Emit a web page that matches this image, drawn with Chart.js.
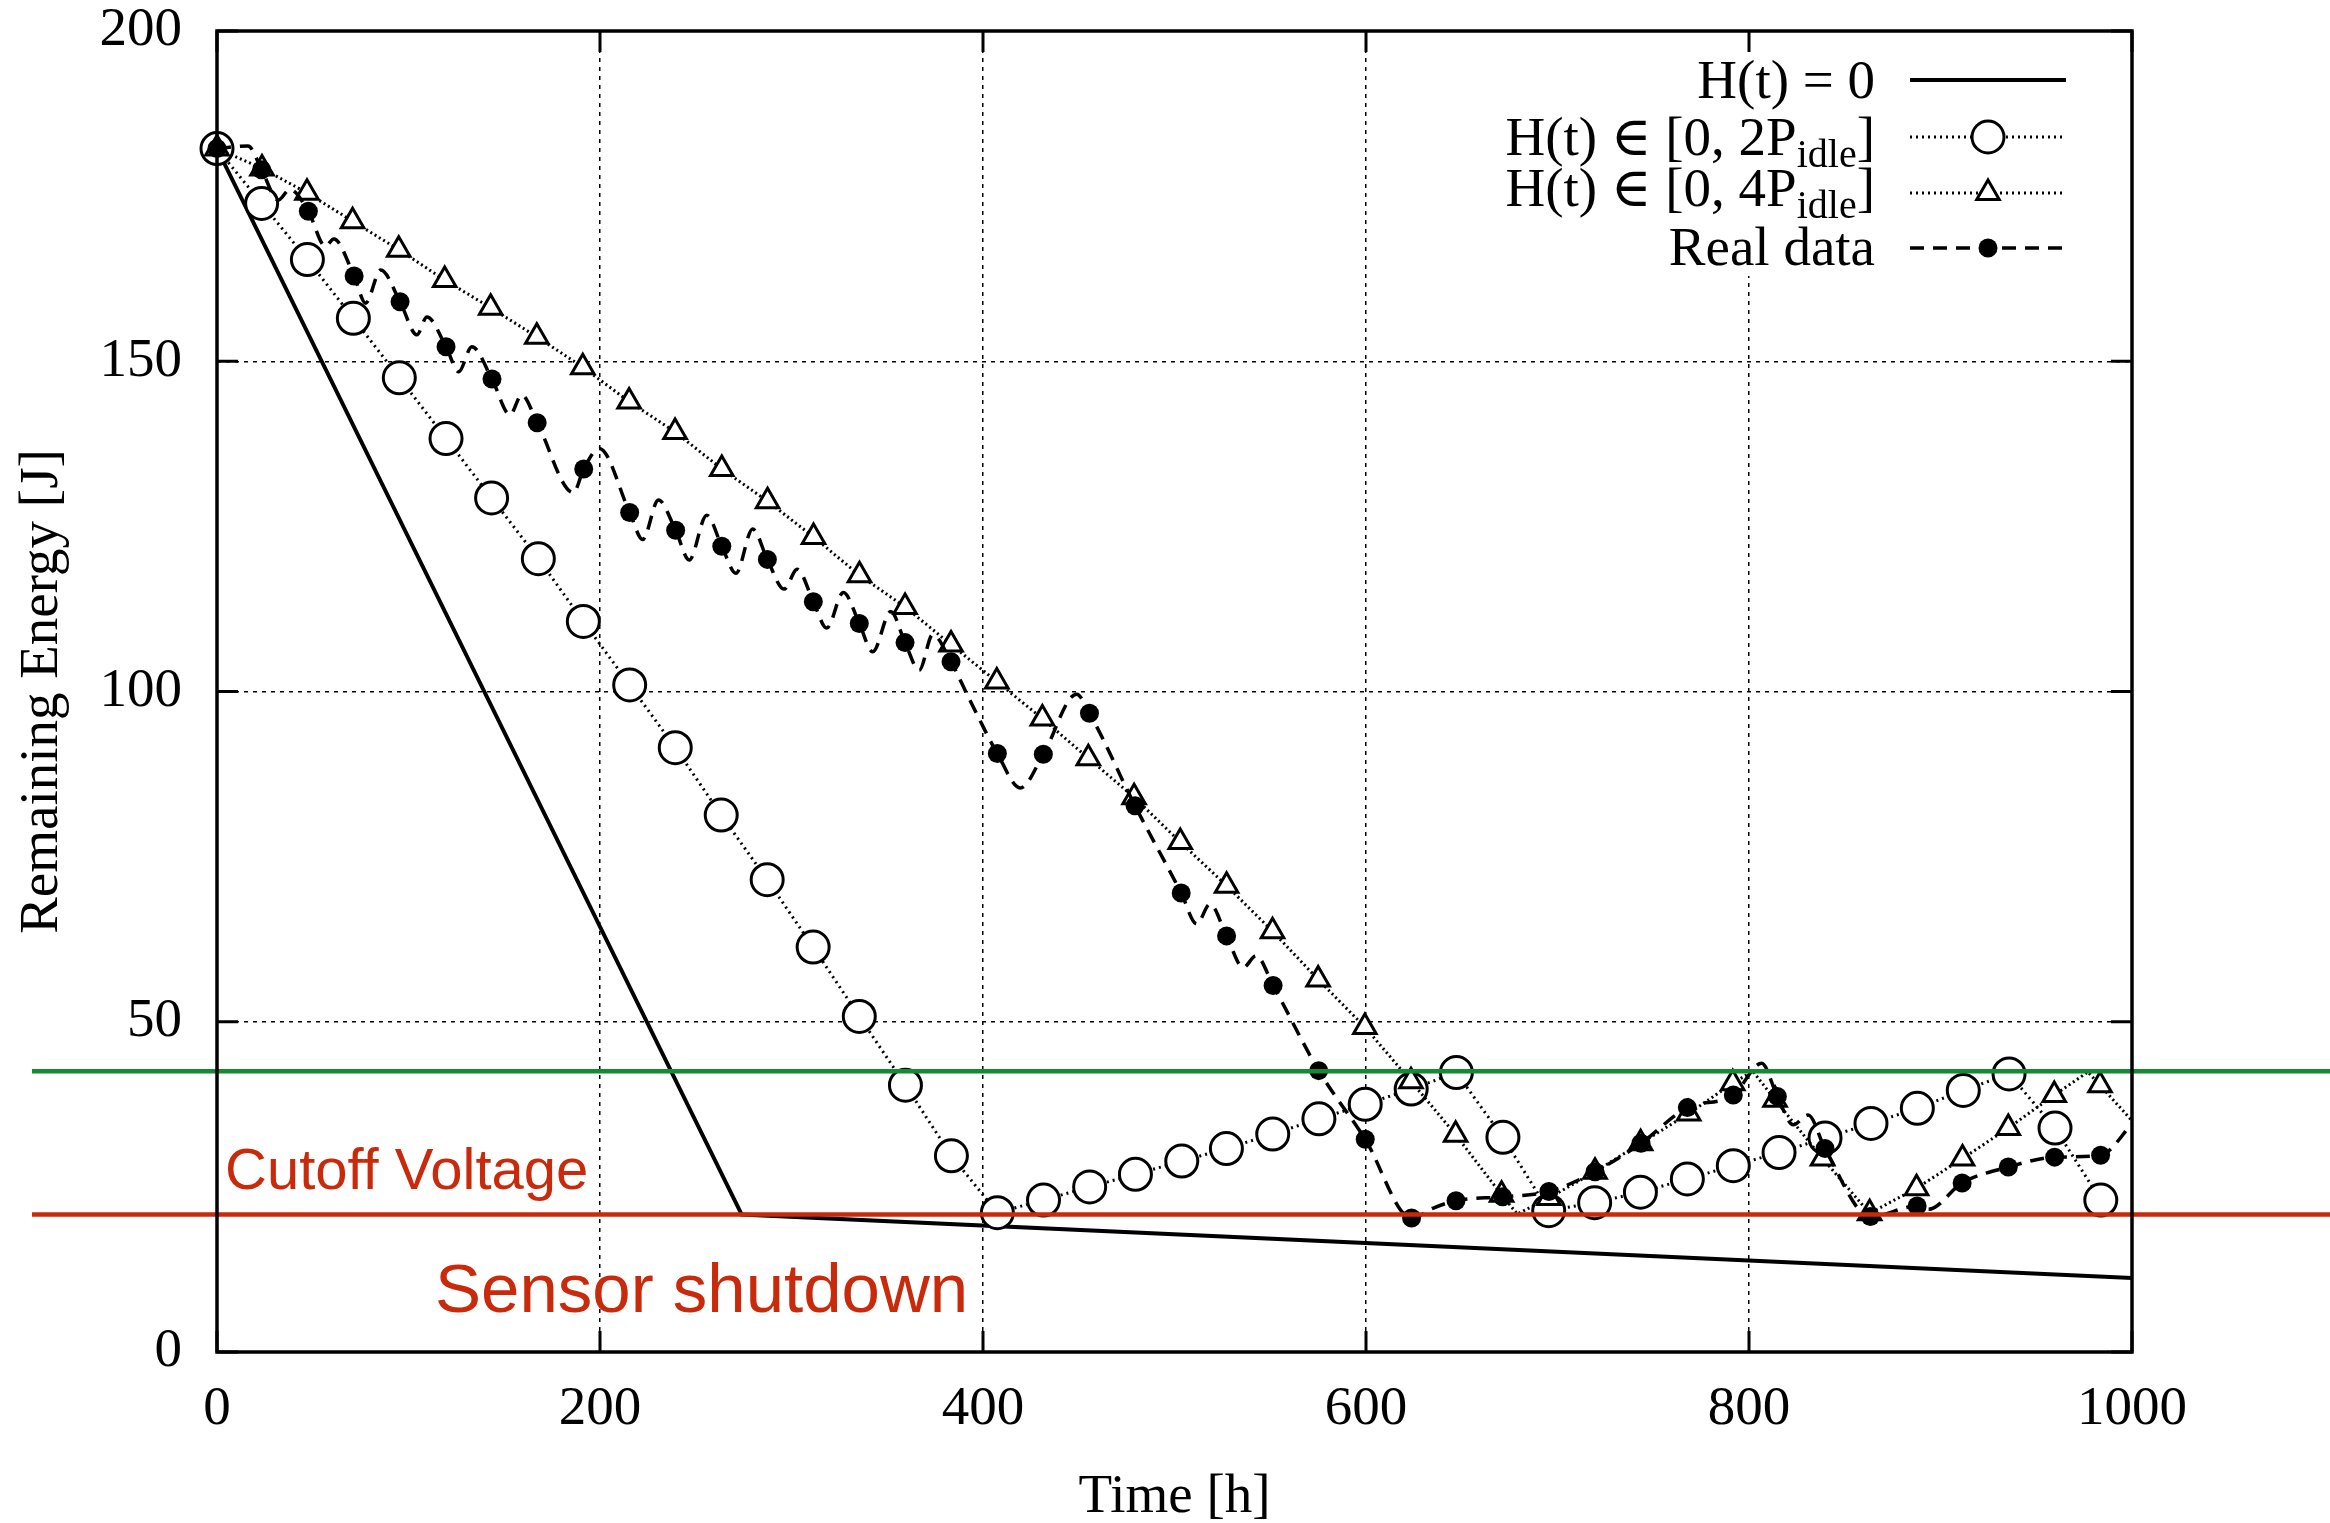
<!DOCTYPE html>
<html>
<head>
<meta charset="utf-8">
<script src="https://cdn.jsdelivr.net/npm/chart.js@4.4.1/dist/chart.umd.min.js"></script>
<style>
html, body { margin: 0; padding: 0; background: #fff; }
canvas { display: block; }
</style>
</head>
<body>
<canvas id="energy-chart" width="2330" height="1523"></canvas>
<script>
// Dados (tempo em horas, energia em J)
const hZeroTime = [0, 274, 1000];
const hZeroEnergy = [182.2, 20.8, 11.2];

// H(t) em [0, 2P_idle] - marcadores (círculos)
const time2P = [0, 23.3, 47.2, 71.2, 95.2, 119.6, 143.4, 167.8, 191.3, 215.5, 239.3, 263.3, 287.3, 311.3,
  335.4, 359.5, 383.5, 407.5, 431.6, 455.7, 479.6, 503.8, 527.1, 551.3, 575.4, 599.6, 623.6, 647.2,
  671.5, 695.4, 719.4, 743.3, 767.8, 791.8, 815.7, 839.7, 863.7, 887.9, 911.9, 935.8, 959.8, 983.7];
const energy2P = [182.2, 173.9, 165.4, 156.5, 147.5, 138.3, 129.3, 120.1, 110.6, 101.0, 91.5, 81.3, 71.5, 61.3,
  50.8, 40.4, 29.7, 21.1, 23.0, 25.0, 26.9, 28.9, 30.8, 33.0, 35.3, 37.5, 39.8, 42.3,
  32.5, 21.4, 22.6, 24.2, 26.2, 28.2, 30.2, 32.4, 34.6, 36.9, 39.6, 42.1, 33.9, 23.0];
const time2PExtra = [989];
const energy2PExtra = [20.7];

// H(t) em [0, 4P_idle] - marcadores (triângulos)
const time4P = [0, 23.5, 47, 70.8, 94.9, 118.9, 142.9, 167, 191, 215.2, 239.2, 263.6, 287.5, 311.5,
  335.5, 359.3, 383.3, 407.2, 431, 455, 478.9, 503, 527.2, 551.2, 575, 599.4, 623.5, 646.8,
  670.8, 695.5, 719.6, 743.4, 768.5, 791.5, 813.6, 838.4, 863, 887.5, 911.5, 935.4, 959.4, 983.3];
const energy4P = [182.2, 179.2, 175.5, 171.2, 166.9, 162.3, 158.1, 153.7, 149.1, 143.9, 139.3, 133.7, 128.8, 123.4,
  117.6, 112.8, 107.1, 101.5, 95.9, 89.9, 84.0, 77.2, 70.6, 63.7, 56.4, 49.2, 41.0, 32.9,
  23.8, 23.3, 27.3, 31.6, 36.1, 40.7, 38.2, 29.3, 21.0, 24.8, 29.3, 33.9, 38.9, 40.4];
const time4PExtra = [679, 802, 977, 1000];
const energy4PExtra = [20.9, 42.5, 42.4, 35.0];

// Dados reais - marcadores (pontos cheios)
const timeReal = [0, 23.3, 47.7, 71.6, 95.6, 119.6, 143.6, 167.2, 191.5, 215.5, 239.5, 263.6, 287.4, 311.4,
  335.4, 359.3, 383.3, 407.5, 431.5, 455.6, 479.4, 503.5, 527.2, 551.5, 575.3, 599.6, 623.8, 647,
  671.3, 695.5, 719.6, 743.6, 767.8, 791.8, 814.8, 839.7, 863.4, 887.8, 911.3, 935.4, 959.6, 983.6];
const energyReal = [182.2, 179.0, 172.7, 162.9, 159.0, 152.2, 147.3, 140.7, 133.7, 127.1, 124.4, 122.0, 120.0, 113.6,
  110.3, 107.4, 104.5, 90.6, 90.5, 96.7, 82.7, 69.5, 63.0, 55.5, 42.6, 32.2, 20.3, 22.9,
  23.5, 24.3, 27.3, 31.6, 37.0, 38.9, 38.7, 30.8, 20.5, 22.1, 25.6, 28.0, 29.5, 29.8];
// Picos e vales da curva real entre os marcadores
const timeRealExtra = [16.2, 32, 38, 56.6, 61, 77.6, 85.5, 104.4, 109.6, 126.2, 133.1, 153, 159.1, 186.1, 199.6,
  222.3, 230.5, 246.6, 255.7, 271, 279.7, 296.1, 303, 318.4, 327.1, 342.4, 351.8, 366.7, 373.7, 392.3,
  419.5, 448.9, 511.6, 518.5, 535.9, 542.6, 635.2, 806.6, 823.1, 830.9, 893.6, 1000];
const energyRealExtra = [182.6, 174.4, 176.0, 167.4, 168.5, 158.8, 163.8, 154.0, 156.7, 148.4, 152.2, 141.9, 144.9, 130.1, 136.8,
  123.0, 129.0, 119.9, 126.7, 117.9, 124.6, 115.5, 118.5, 109.6, 115.0, 106.0, 112.1, 103.2, 108.6, 99.2,
  85.4, 99.6, 64.8, 67.8, 58.2, 60.0, 21.8, 43.7, 34.4, 35.9, 21.6, 34.5];

// Níveis horizontais
const harvestLevel = 42.5;
const cutoffLevel = 20.8;

const xTicks = [0, 200, 400, 600, 800, 1000];
const yTicks = [0, 50, 100, 150, 200];

const serif = "'Liberation Serif', 'Times New Roman', 'DejaVu Serif', serif";
const sans = "'Liberation Sans', Arial, Helvetica, sans-serif";
const red = '#c92a0c';
const green = '#148a32';

function toPoints(ts, es) {
    return ts.map((t, i) => ({x: t, y: es[i]}));
}
function mergePoints(ts, es, xs, ys) {
    return toPoints(ts.concat(xs), es.concat(ys)).sort((a, b) => a.x - b.x);
}

// Legenda, moldura, limiares e textos
const decorPlugin = {
    id: 'decor',
    beforeDatasetsDraw(chart) {
        const c = chart.ctx;
        c.save();
        c.fillStyle = '#fff';
        c.fillRect(1480, 52, 610, 224);
        c.restore();
    },
    afterDatasetsDraw(chart) {
        const c = chart.ctx;
        const a = chart.chartArea;
        const xs = chart.scales.x;
        const ys = chart.scales.y;
        c.save();

        // linhas de limiar
        c.lineWidth = 4.5;
        c.strokeStyle = green;
        let py = ys.getPixelForValue(harvestLevel);
        c.beginPath(); c.moveTo(32, py); c.lineTo(chart.width, py); c.stroke();
        c.strokeStyle = red;
        py = ys.getPixelForValue(cutoffLevel);
        c.beginPath(); c.moveTo(32, py); c.lineTo(chart.width, py); c.stroke();

        c.fillStyle = red;
        c.textAlign = 'left';
        c.textBaseline = 'alphabetic';
        c.font = '58px ' + sans;
        c.fillText('Cutoff Voltage', 225, 1189);
        c.font = '69px ' + sans;
        c.fillText('Sensor shutdown', 435, 1312);

        // moldura e marcas dos eixos
        c.strokeStyle = '#000';
        c.lineWidth = 3.5;
        c.strokeRect(a.left, a.top, a.right - a.left, a.bottom - a.top);
        c.lineWidth = 3;
        c.beginPath();
        xTicks.forEach(v => {
            const px = xs.getPixelForValue(v);
            c.moveTo(px, a.bottom); c.lineTo(px, a.bottom - 21);
            c.moveTo(px, a.top); c.lineTo(px, a.top + 21);
        });
        yTicks.forEach(v => {
            const p = ys.getPixelForValue(v);
            c.moveTo(a.left, p); c.lineTo(a.left + 21, p);
            c.moveTo(a.right, p); c.lineTo(a.right - 21, p);
        });
        c.stroke();

        // títulos dos eixos
        c.fillStyle = '#000';
        c.font = '55px ' + serif;
        c.textAlign = 'center';
        c.fillText('Time [h]', (a.left + a.right) / 2, 1512);
        c.save();
        c.translate(57, (a.top + a.bottom) / 2);
        c.rotate(-Math.PI / 2);
        c.fillText('Remaining Energy [J]', 0, 0);
        c.restore();

        // legenda
        const rows = [
            {main: 'H(t) = 0', sub: '', tail: '', base: 98, line: 80, dash: [], width: 4, marker: null},
            {main: 'H(t) \u2208 [0, 2P', sub: 'idle', tail: ']', base: 155, line: 137, dash: [2, 4], width: 3, marker: 'circle'},
            {main: 'H(t) \u2208 [0, 4P', sub: 'idle', tail: ']', base: 206, line: 193, dash: [2, 4], width: 3, marker: 'triangle'},
            {main: 'Real data', sub: '', tail: '', base: 265, line: 248, dash: [14, 9], width: 3.5, marker: 'dot'}
        ];
        const textRight = 1875;
        rows.forEach(r => {
            c.textAlign = 'left';
            c.font = '55px ' + serif;
            const w1 = c.measureText(r.main).width;
            const w3 = c.measureText(r.tail).width;
            c.font = '40px ' + serif;
            const w2 = r.sub ? c.measureText(r.sub).width : 0;
            let px = textRight - w1 - w2 - w3;
            c.font = '55px ' + serif;
            c.fillText(r.main, px, r.base);
            px += w1;
            if (r.sub) {
                c.font = '40px ' + serif;
                c.fillText(r.sub, px, r.base + 12);
                px += w2;
                c.font = '55px ' + serif;
                c.fillText(r.tail, px, r.base);
            }
            c.setLineDash(r.dash);
            c.lineWidth = r.width;
            c.beginPath(); c.moveTo(1910, r.line); c.lineTo(2066, r.line); c.stroke();
            c.setLineDash([]);
            const mx = 1988;
            if (r.marker === 'circle') {
                c.fillStyle = '#fff'; c.lineWidth = 3;
                c.beginPath(); c.arc(mx, r.line, 16, 0, Math.PI * 2); c.fill(); c.stroke();
            } else if (r.marker === 'triangle') {
                const rr = 13;
                c.fillStyle = '#fff'; c.lineWidth = 3;
                c.beginPath();
                c.moveTo(mx, r.line - rr);
                c.lineTo(mx + rr * 0.866, r.line + rr / 2);
                c.lineTo(mx - rr * 0.866, r.line + rr / 2);
                c.closePath(); c.fill(); c.stroke();
            } else if (r.marker === 'dot') {
                c.fillStyle = '#000';
                c.beginPath(); c.arc(mx, r.line, 9.5, 0, Math.PI * 2); c.fill();
            }
            c.fillStyle = '#000';
        });
        c.restore();
    }
};

const tickFont = {family: serif, size: 55, lineHeight: 1.0};
const gridColor = edge => c => (c.tick && (c.tick.value === edge[0] || c.tick.value === edge[1])) ? 'rgba(0,0,0,0)' : '#000';
const noPadding = s => { s.paddingTop = 0; s.paddingBottom = 0; s.paddingLeft = 0; s.paddingRight = 0; };

const ctx = document.getElementById('energy-chart').getContext('2d');
const energyChart = new Chart(ctx, {
    type: 'line',
    data: {
        datasets: [{
            label: 'H(t) = 0',
            data: toPoints(hZeroTime, hZeroEnergy),
            borderColor: '#000',
            borderWidth: 4,
            pointRadius: 0,
            order: 10
        }, {
            label: 'H(t) in [0, 2P_idle]',
            data: mergePoints(time2P, energy2P, time2PExtra, energy2PExtra),
            borderColor: '#000',
            borderWidth: 3,
            borderDash: [2, 4],
            pointRadius: 0,
            order: 9
        }, {
            label: '2P marcadores',
            data: toPoints(time2P, energy2P),
            showLine: false,
            pointStyle: 'circle',
            pointRadius: 16,
            pointBackgroundColor: '#fff',
            pointBorderColor: '#000',
            pointBorderWidth: 3,
            clip: false,
            order: 8
        }, {
            label: 'H(t) in [0, 4P_idle]',
            data: mergePoints(time4P, energy4P, time4PExtra, energy4PExtra),
            borderColor: '#000',
            borderWidth: 3,
            borderDash: [2, 3],
            pointRadius: 0,
            order: 7
        }, {
            label: '4P marcadores',
            data: toPoints(time4P, energy4P),
            showLine: false,
            pointStyle: 'triangle',
            pointRadius: 13,
            pointBackgroundColor: '#fff',
            pointBorderColor: '#000',
            pointBorderWidth: 3,
            clip: false,
            order: 6
        }, {
            label: 'Real data',
            data: mergePoints(timeReal, energyReal, timeRealExtra, energyRealExtra),
            borderColor: '#000',
            borderWidth: 3.5,
            borderDash: [14, 9],
            cubicInterpolationMode: 'monotone',
            pointRadius: 0,
            order: 5
        }, {
            label: 'Real marcadores',
            data: toPoints(timeReal, energyReal),
            showLine: false,
            pointStyle: 'circle',
            pointRadius: 9.5,
            pointBackgroundColor: '#000',
            pointBorderColor: '#000',
            pointBorderWidth: 0,
            clip: false,
            order: 4
        }]
    },
    options: {
        responsive: false,
        animation: false,
        devicePixelRatio: 1,
        layout: {padding: {left: 0, top: 31, right: 198, bottom: 0}},
        plugins: {
            legend: {display: false},
            tooltip: {enabled: false}
        },
        scales: {
            x: {
                type: 'linear',
                min: 0,
                max: 1000,
                afterFit: s => { s.height = 171; noPadding(s); },
                afterBuildTicks: s => { s.ticks = xTicks.map(v => ({value: v})); },
                ticks: {color: '#000', font: tickFont, padding: 30, maxRotation: 0, autoSkip: false,
                        callback: v => String(v)},
                grid: {color: gridColor([0, 1000]), lineWidth: 1.5, drawTicks: false},
                border: {display: false, dash: [4, 5]}
            },
            y: {
                type: 'linear',
                min: 0,
                max: 200,
                afterFit: s => { s.width = 217; noPadding(s); },
                afterBuildTicks: s => { s.ticks = yTicks.map(v => ({value: v})); },
                ticks: {color: '#000', font: tickFont, padding: 35, autoSkip: false,
                        callback: v => String(v)},
                grid: {color: gridColor([0, 200]), lineWidth: 1.5, drawTicks: false},
                border: {display: false, dash: [4, 5]}
            }
        }
    },
    plugins: [decorPlugin]
});
</script>
</body>
</html>
